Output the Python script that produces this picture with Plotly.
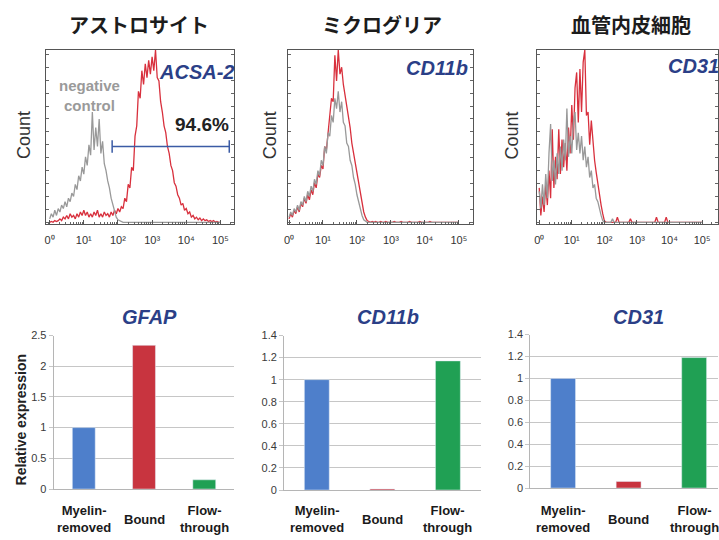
import plotly.graph_objects as go

W, H = 719, 540

# ---------------- data ----------------
# flow cytometry channels (log10 fluorescence) and counts (% of panel max)
channels_log = [
    0.00, 0.05, 0.10, 0.15, 0.20, 0.25, 0.30, 0.35, 0.40, 0.45,
    0.50, 0.55, 0.60, 0.65, 0.70, 0.75, 0.80, 0.85, 0.90, 0.95,
    1.00, 1.05, 1.10, 1.15, 1.20, 1.25, 1.30, 1.35, 1.40, 1.45,
    1.50, 1.55, 1.60, 1.65, 1.70, 1.75, 1.80, 1.85, 1.90, 1.95,
    2.00, 2.05, 2.10, 2.15, 2.20, 2.25, 2.30, 2.35, 2.40, 2.45,
    2.50, 2.55, 2.60, 2.65, 2.70, 2.75, 2.80, 2.85, 2.90, 2.95,
    3.00, 3.05, 3.10, 3.15, 3.20, 3.25, 3.30, 3.35, 3.40, 3.45,
    3.50, 3.55, 3.60, 3.65, 3.70, 3.75, 3.80, 3.85, 3.90, 3.95,
    4.00, 4.05, 4.10, 4.15, 4.20, 4.25, 4.30, 4.35, 4.40, 4.45,
    4.50, 4.55, 4.60, 4.65, 4.70, 4.75, 4.80, 4.85, 4.90, 4.95,
    5.00,
]

astro_ctrl = [
    2, 5, 3, 7, 4, 8, 6, 10, 8, 12,
    9, 14, 12, 17, 15, 22, 19, 27, 24, 32,
    28, 38, 33, 45, 39, 64, 42, 55, 44, 60,
    40, 47, 34, 30, 24, 20, 14, 10, 6, 3,
    1.5, 1, 0.5, 0, 0, 0, 0, 0, 0, 0,
    0, 0, 0, 0, 0, 0, 0, 0, 0, 0,
    0, 0, 0, 0, 0, 0, 0, 0, 0, 0,
    0, 0, 0, 0, 0, 0, 0, 0, 0, 0,
    0, 0, 0, 0, 0, 0, 0, 0, 0, 0,
    0, 0, 0, 0, 0, 0, 0, 0, 0, 0,
    0,
]
astro_acsa2 = [
    0, 0.5, 0, 1, 0.5, 1, 2, 1, 3, 2,
    4, 2, 5, 3, 4, 2, 5, 3, 6, 4,
    7, 4, 6, 3, 5, 3, 6, 4, 7, 3,
    5, 3, 6, 4, 5, 3, 6, 4, 7, 5,
    8, 6, 9, 8, 14, 12, 22, 20, 32, 30,
    50, 56, 76, 72, 88, 80, 92, 84, 94, 86,
    96, 88, 100, 84, 82, 70, 64, 56, 52, 44,
    40, 33, 30, 23, 21, 16, 14, 10, 11, 7,
    8, 5, 6, 3, 4, 2, 3, 1.5, 2.5, 1,
    2, 1, 1.5, 0.5, 1, 0.5, 1, 0, 0.5, 0,
    0,
]
micro_ctrl = [
    3, 6, 4, 8, 6, 10, 7, 12, 10, 15,
    12, 18, 15, 21, 18, 25, 22, 30, 27, 36,
    33, 44, 40, 52, 50, 62, 58, 72, 66, 76,
    64, 70, 58, 56, 46, 44, 36, 33, 26, 22,
    16, 12, 7, 4, 1.5, 0.5, 0, 0, 0, 0,
    0, 0, 0, 0, 0, 0, 0, 0, 0, 0,
    0, 0, 0, 0, 0, 0, 0, 0, 0, 0,
    0, 0, 0, 0, 0, 0, 0, 0, 0, 0,
    0, 0, 0, 0, 0, 0, 0, 0, 0, 0,
    0, 0, 0, 0, 0, 0, 0, 0, 0, 0,
    0,
]
micro_cd11b = [
    2, 5, 3, 7, 5, 9, 6, 11, 9, 14,
    11, 16, 13, 19, 16, 23, 20, 28, 26, 33,
    31, 44, 42, 52, 60, 72, 70, 97, 82, 100,
    86, 90, 80, 74, 66, 60, 55, 46, 40, 36,
    28, 22, 18, 10, 6, 3, 1, 0.5, 0, 0.5,
    0, 0.5, 0, 0, 0.5, 0, 0, 0.5, 0, 0,
    0, 0, 0.5, 0, 0, 0, 0.5, 0, 0, 0,
    0, 0.5, 0, 0, 0, 0, 0, 0.5, 0, 0,
    0, 0, 0, 0.5, 0, 0, 0, 0, 0, 0,
    0, 0, 0, 0, 0, 0, 0, 0, 0, 0,
    0,
]
endo_ctrl = [
    18, 8, 22, 10, 28, 14, 40, 57, 24, 36,
    22, 40, 28, 44, 30, 48, 36, 66, 38, 50,
    40, 58, 64, 42, 52, 40, 50, 36, 44, 32,
    38, 26, 30, 20, 22, 14, 12, 7, 4, 1,
    0, 0, 0, 0, 0, 2, 0, 0, 0, 0,
    0, 0, 0, 0, 0, 0, 0, 0, 0, 0,
    0, 0, 0, 0, 0, 0, 0, 0, 0, 0,
    0, 0, 0, 0, 0, 0, 0, 0, 0, 0,
    0, 0, 0, 0, 0, 0, 0, 0, 0, 0,
    0, 0, 0, 0, 0, 0, 0, 0, 0, 0,
    0,
]
endo_cd31 = [
    20, 4, 15, 6, 22, 10, 30, 14, 54, 20,
    38, 25, 54, 28, 48, 32, 46, 30, 55, 40,
    68, 48, 78, 87, 58, 89, 64, 93, 100, 62,
    64, 45, 59, 46, 36, 29, 22, 16, 10, 5,
    1, 0, 0, 0, 0, 0, 0, 0, 3, 0,
    0, 0, 0, 0, 0, 0, 2, 0, 0, 0,
    0, 0, 0, 0, 0, 0, 0, 0, 0, 0,
    0, 0, 3, 0, 0, 0, 0, 0, 3, 0,
    0, 0, 0, 0, 0, 0, 0, 0, 0, 0,
    0, 0, 0, 0, 0, 0, 0, 0, 0, 0,
    0,
]

gate_log = [1.83, 5.26]
gate_level = 44
gate_pct = "94.6%"

hist_titles = ["アストロサイト", "ミクログリア", "血管内皮細胞"]
marker_names = ["ACSA-2", "CD11b", "CD31"]
decade_ticks = [1, 10, 100, 1000, 10000, 100000]
decade_labels = ["0⁰", "10¹", "10²", "10³", "10⁴", "10⁵"]

fractions = ["Myelin-removed", "Bound", "Flow-through"]
fraction_labels = ["Myelin-<br>removed", "Bound", "Flow-<br>through"]
gfap_expr = [1.0, 2.34, 0.15]
cd11b_expr = [1.0, 0.01, 1.17]
cd31_expr = [1.0, 0.06, 1.19]
bar_titles = ["GFAP", "CD11b", "CD31"]
bar_colors = ["#4e7fcb", "#c8343f", "#20a054"]

# ---------------- helpers ----------------
def px(x):
    return x / W

def py(y):
    return 1 - y / H

NAVY = "#2b3f87"
RED = "#d8303d"
GRAY = "#999999"
SANS = "Liberation Sans, Arial, sans-serif"

fig = go.Figure()

chan_x = [10 ** v for v in channels_log]
hist_sets = [
    (astro_acsa2, astro_ctrl),
    (micro_cd11b, micro_ctrl),
    (endo_cd31, endo_ctrl),
]
for i, (pos, neg) in enumerate(hist_sets):
    xa = "x" if i == 0 else f"x{i+1}"
    ya = "y" if i == 0 else f"y{i+1}"
    fig.add_trace(go.Scatter(x=chan_x, y=pos, mode="lines",
                             line=dict(color=RED, width=1.3),
                             xaxis=xa, yaxis=ya, hoverinfo="skip"))
    fig.add_trace(go.Scatter(x=chan_x, y=neg, mode="lines",
                             line=dict(color=GRAY, width=1.3),
                             xaxis=xa, yaxis=ya, hoverinfo="skip"))

# gate bar
fig.add_trace(go.Scatter(
    x=[10 ** v for v in gate_log], y=[gate_level, gate_level],
    mode="lines+markers",
    line=dict(color="#3b5ba5", width=1.5),
    marker=dict(symbol="line-ns", size=9,
                line=dict(color="#3b5ba5", width=1.5)),
    xaxis="x", yaxis="y", hoverinfo="skip"))

bar_sets = [gfap_expr, cd11b_expr, cd31_expr]
for j, vals in enumerate(bar_sets):
    fig.add_trace(go.Bar(x=fractions, y=vals, marker_color=bar_colors,
                         width=0.38, xaxis=f"x{j+4}", yaxis=f"y{j+4}",
                         hoverinfo="skip"))

# ---------------- axes ----------------
hist_geom = [  # left px, right px, x range (log10)
    (42, 232, [-0.116, 5.41]),
    (286, 472, [-0.03, 5.41]),
    (537, 719, [-0.06, 5.49]),
]
layout_axes = {}
for i, (l, r, rng) in enumerate(hist_geom):
    xname = "xaxis" if i == 0 else f"xaxis{i+1}"
    yname = "yaxis" if i == 0 else f"yaxis{i+1}"
    yref = "y" if i == 0 else f"y{i+1}"
    xref = "x" if i == 0 else f"x{i+1}"
    layout_axes[xname] = dict(
        type="log", domain=[px(l), px(r)], range=rng, anchor=yref,
        tickmode="array", tickvals=decade_ticks, ticktext=decade_labels,
        ticks="inside", ticklen=4, tickcolor="#555",
        minor=dict(ticks="inside", ticklen=2, tickcolor="#666", dtick="D1"),
        showline=True, linecolor="#555", linewidth=1, mirror=True,
        showgrid=False, zeroline=False, ticklabelstandoff=6,
        tickfont=dict(size=11, color="#333", family=SANS))
    layout_axes[yname] = dict(
        domain=[py(223), py(45)], range=[-1, 100], anchor=xref,
        ticks="inside", ticklen=3, tickcolor="#666", dtick=7.5, tick0=0,
        showticklabels=False, showline=True, linecolor="#555", linewidth=1,
        mirror="ticks", showgrid=False, zeroline=False)

bar_geom = [  # left px, right px, top px, bottom px, x range, y max, dtick
    (50, 232, 337, 494, [-0.5, 2.5], 2.5, 0.5),
    (282, 480, 337, 495, [-0.5, 2.5], 1.4, 0.2),
    (530, 719, 336, 493, [-0.5, 2.364], 1.4, 0.2),
]
for j, (l, r, t, b, xr, ymax, dt) in enumerate(bar_geom):
    k = j + 4
    layout_axes[f"xaxis{k}"] = dict(
        domain=[px(l), px(r)], range=xr, anchor=f"y{k}", type="category",
        showticklabels=False, ticks="", showline=True, linecolor="#b5b5b5",
        linewidth=1, showgrid=False, zeroline=False)
    layout_axes[f"yaxis{k}"] = dict(
        domain=[py(b), py(t)], range=[0, ymax], anchor=f"x{k}",
        dtick=dt, tick0=0, showgrid=True, gridcolor="#c6c6c6", gridwidth=1,
        showline=True, linecolor="#b5b5b5", linewidth=1,
        ticks="outside", ticklen=4, tickcolor="#c6c6c6",
        zeroline=False, tickfont=dict(size=11, color="#3a3a3a", family=SANS))

# ---------------- annotations ----------------
ann = []

def note(x, y, text, size, color, family=SANS, xref="paper", xanchor="center", angle=0):
    ann.append(dict(x=x, y=y, xref=xref, yref="paper", text=text,
                    showarrow=False, xanchor=xanchor, yanchor="middle",
                    textangle=angle,
                    font=dict(family=family, size=size, color=color)))

title_x = [136, 381, 631]
for t, xc in zip(hist_titles, title_x):
    note(px(xc), py(19), f"<b>{t}</b>", 20, "#1c1c1c", family="Noto Sans CJK JP")
for xc in [20, 268, 512]:
    note(px(xc), py(132), "Count", 18, "#333", angle=-90)

note(px(234), py(68), f"<b><i>{marker_names[0]}</i></b>", 20, NAVY, xanchor="right")
note(px(436), py(63), f"<b><i>{marker_names[1]}</i></b>", 20, NAVY)
note(px(667), py(61), f"<b><i>{marker_names[2]}</i></b>", 20, NAVY, xanchor="left")
note(px(86), py(92), "<b>negative<br>control</b>", 15, "#9a9a9a")
note(px(199), py(121), f"<b>{gate_pct}</b>", 19, "#222")

bar_title_x = [147, 387, 639]
for t, xc in zip(bar_titles, bar_title_x):
    note(px(xc), py(318), f"<b><i>{t}</i></b>", 20, NAVY)
note(px(17), py(423), "<b>Relative expression</b>", 14, "#222", angle=-90)
for j in range(3):
    for c, lab in enumerate(fraction_labels):
        note(c, py(525), f"<b>{lab}</b>", 13, "#1a1a1a", xref=f"x{j+4}")

fig.update_layout(
    width=W, height=H, autosize=False,
    margin=dict(l=0, r=0, t=0, b=0),
    paper_bgcolor="white", plot_bgcolor="white",
    showlegend=False, annotations=ann,
    **layout_axes)

fig.write_html("out.html", config={"displayModeBar": False},
               post_script="document.body.style.margin='0px';")
